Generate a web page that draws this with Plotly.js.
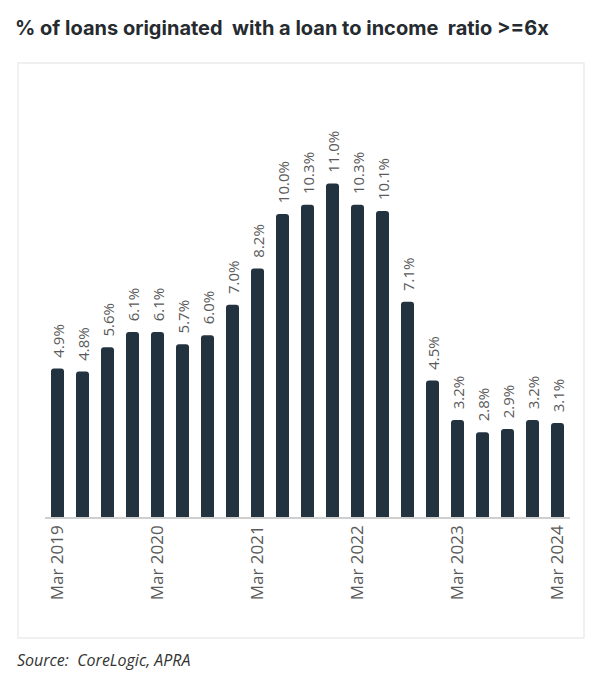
<!DOCTYPE html>
<html>
<head>
<meta charset="utf-8">
<script src="https://cdn.plot.ly/plotly-3.0.1.min.js"></script>
<style>
  html, body { margin: 0; padding: 0; background: #fff; }
  #chart { width: 600px; height: 677px; }
</style>
</head>
<body>
<div id="chart"></div>
<script>
// quarterly data, Mar 2019 .. Mar 2024
const quarters = [
  "Mar 2019", "Jun 2019", "Sep 2019", "Dec 2019",
  "Mar 2020", "Jun 2020", "Sep 2020", "Dec 2020",
  "Mar 2021", "Jun 2021", "Sep 2021", "Dec 2021",
  "Mar 2022", "Jun 2022", "Sep 2022", "Dec 2022",
  "Mar 2023", "Jun 2023", "Sep 2023", "Dec 2023",
  "Mar 2024"
];
const share_lti6 = [4.9, 4.8, 5.6, 6.1, 6.1, 5.7, 6.0, 7.0, 8.2, 10.0, 10.3, 11.0, 10.3, 10.1, 7.1, 4.5, 3.2, 2.8, 2.9, 3.2, 3.1];
const tick_labels = ["Mar 2019", "Mar 2020", "Mar 2021", "Mar 2022", "Mar 2023", "Mar 2024"];

const chart_title = "% of loans originated  with a loan to income  ratio >=6x";
const source_text = "Source:  CoreLogic, APRA";

// etykiety nad słupkami, z odstępem od słupka
const labels = share_lti6.map(v => "\u00a0\u00a0" + v.toFixed(1) + "%");

var trace = {
  type: "bar",
  x: quarters,
  y: share_lti6,
  text: labels,
  textposition: "outside",
  textangle: -90,
  constraintext: "none",
  cliponaxis: false,
  textfont: { family: "Open Sans", size: 15, color: "#5a5a5a" },
  marker: { color: "#22333f", cornerradius: 3 },
  hoverinfo: "x+y"
};

var layout = {
  width: 600,
  height: 677,
  margin: { l: 45, r: 30, t: 123, b: 160 },
  paper_bgcolor: "#ffffff",
  plot_bgcolor: "#ffffff",
  bargap: 0.48,
  showlegend: false,
  title: {
    text: chart_title,
    x: 0.025,
    xanchor: "left",
    xref: "container",
    y: 0.958,
    yanchor: "middle",
    font: { family: "Inter", size: 20, color: "#262b30", weight: 700 }
  },
  xaxis: {
    type: "category",
    range: [-0.5, 20.5],
    tickmode: "array",
    tickvals: tick_labels,
    ticktext: tick_labels,
    tickangle: -90,
    tickfont: { family: "Open Sans", size: 17, color: "#5a5a5a" },
    showline: true,
    linecolor: "#cfcfcf",
    linewidth: 1.5,
    ticks: "",
    showgrid: false,
    zeroline: false,
    fixedrange: true
  },
  yaxis: {
    range: [0, 13],
    visible: false,
    showgrid: false,
    zeroline: false,
    fixedrange: true
  },
  shapes: [
    {
      type: "rect",
      xref: "paper", yref: "paper",
      x0: -0.0514, x1: 1.0267,
      y0: -0.307, y1: 1.152,
      line: { color: "#ececec", width: 1.5 },
      fillcolor: "rgba(0,0,0,0)",
      layer: "below"
    }
  ],
  annotations: [
    {
      text: source_text,
      xref: "paper", yref: "paper",
      x: -0.057, y: -0.362,
      xanchor: "left", yanchor: "middle",
      showarrow: false,
      font: { family: "Open Sans", size: 16, color: "#333333", style: "italic" }
    }
  ]
};

Plotly.newPlot("chart", [trace], layout, { displayModeBar: false, staticPlot: true });
</script>
</body>
</html>
